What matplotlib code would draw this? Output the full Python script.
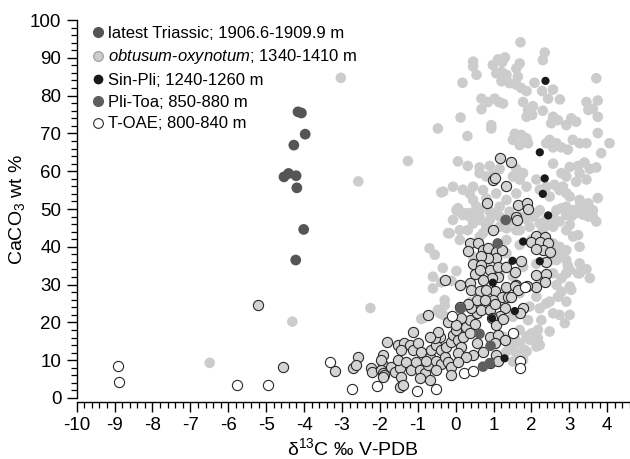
import matplotlib
matplotlib.use("Agg")
import matplotlib.pyplot as plt
from matplotlib.lines import Line2D
from matplotlib.ticker import MultipleLocator

plt.rcParams['font.family'] = ['Liberation Sans', 'DejaVu Sans']
plt.rcParams['mathtext.fontset'] = 'custom'
plt.rcParams['mathtext.rm'] = 'Liberation Sans'
plt.rcParams['mathtext.it'] = 'Liberation Sans:italic'
plt.rcParams['axes.unicode_minus'] = False

# latest Triassic; 1906.6-1909.9 m
tri_x = [-4.16, -4.07, -3.97, -4.27, -4.53, -4.41, -4.21, -4.19, -4.01, -4.22]
tri_y = [75.7, 75.4, 69.8, 66.9, 58.5, 59.4, 58.8, 55.6, 44.6, 36.5]

# obtusum-oxynotum; 1340-1410 m (plain light grey)
obt = [
    (1.71, 94.1), (2.35, 91.4), (2.30, 89.4), (0.46, 89.0), (1.12, 89.6), (1.30, 90.1), (1.23, 88.9),
    (0.98, 88.1), (0.46, 87.7), (1.69, 88.5), (1.60, 87.2), (1.21, 86.3), (1.07, 85.9), (1.34, 85.5),
    (0.55, 85.5), (1.64, 85.0), (0.18, 83.4), (1.21, 83.8), (1.42, 83.3), (1.60, 82.9), (1.73, 82.0),
    (1.87, 81.2), (2.08, 83.4), (2.28, 81.2), (2.57, 81.6), (2.44, 79.2), (2.75, 79.0), (3.71, 84.6),
    (0.68, 79.2), (0.85, 78.3), (1.03, 79.2), (1.14, 78.3), (1.25, 77.9), (0.68, 76.4), (0.13, 74.2),
    (1.78, 78.3), (1.91, 76.2), (2.04, 77.2), (1.87, 74.4), (2.02, 74.9), (2.30, 76.0), (0.94, 72.2),
    (0.94, 71.3), (2.57, 74.4), (2.70, 73.5), (2.52, 72.7), (3.05, 74.0), (3.18, 73.1), (2.92, 72.2),
    (3.45, 78.3), (3.62, 76.5), (3.75, 78.7), (3.75, 74.4), (3.50, 76.2), (-0.47, 71.3), (0.31, 69.3),
    (1.56, 69.9), (1.73, 69.6), (1.51, 68.3), (1.87, 68.7), (1.69, 66.9), (1.91, 67.4), (2.48, 68.3),
    (2.66, 67.4), (2.79, 66.3), (2.57, 66.3), (2.39, 67.4), (3.09, 68.3), (2.96, 65.7), (3.27, 67.4),
    (3.45, 67.4), (3.75, 70.1), (4.06, 67.4), (3.84, 64.8), (-1.26, 62.7), (0.06, 62.6), (0.32, 61.4),
    (0.63, 61.0), (0.90, 61.4), (1.16, 60.6), (1.60, 60.6), (1.51, 58.6), (1.78, 59.5), (1.69, 57.8),
    (2.57, 62.0), (2.79, 59.5), (3.01, 61.1), (2.92, 58.6), (3.23, 61.4), (3.40, 62.3), (3.27, 59.5),
    (3.54, 60.6), (3.71, 61.0), (-0.38, 54.4), (-0.07, 55.9), (0.19, 55.1), (0.46, 55.9), (0.63, 59.5),
    (0.81, 58.6), (0.98, 59.0), (2.13, 57.8), (2.22, 55.1), (2.39, 55.9), (2.61, 56.4), (2.83, 55.9),
    (3.18, 57.2), (3.45, 57.8), (2.92, 54.2), (3.27, 52.4), (3.50, 51.5), (3.75, 52.9), (0.02, 49.7),
    (0.19, 48.4), (0.37, 48.0), (0.63, 47.1), (0.81, 45.4), (1.16, 48.0), (1.42, 46.7), (2.04, 48.0),
    (2.22, 46.2), (2.57, 48.0), (2.92, 48.4), (3.18, 48.9), (3.36, 49.3), (3.50, 48.0),
    (0.06, 50.2), (0.24, 48.9), (0.55, 50.6), (0.63, 47.9), (0.98, 48.9), (0.90, 47.1), (-0.16, 43.6),
    (0.11, 41.8), (0.32, 44.4), (0.63, 42.6), (-0.69, 39.6), (-0.55, 37.9), (-0.34, 34.4), (-0.60, 32.1),
    (-0.60, 29.0), (-0.38, 30.6), (-0.11, 31.0), (0.02, 33.6), (-0.29, 25.9), (-0.86, 21.1), (-0.47, 23.3),
    (-0.20, 21.2), (0.19, 23.9), (0.37, 25.3), (1.34, 41.8), (1.34, 38.3), (1.69, 40.5), (2.00, 41.8),
    (2.57, 40.9), (2.74, 38.3), (2.92, 39.1), (3.27, 40.0), (3.27, 35.6), (3.45, 34.1), (2.96, 35.0),
    (3.54, 31.7), (3.23, 33.0), (3.01, 29.5), (2.79, 31.7), (2.57, 33.0), (2.70, 26.8), (3.05, 28.6),
    (2.92, 25.5), (2.13, 26.8), (2.39, 25.0), (2.57, 22.4), (2.26, 20.6), (2.48, 17.6), (2.17, 15.8),
    (2.00, 17.1), (2.13, 13.6), (1.87, 12.3), (1.69, 14.5), (2.74, 22.0), (3.01, 22.0), (2.88, 19.8),
    (1.87, 47.3), (2.13, 48.9), (2.39, 47.3), (2.79, 50.2), (3.10, 49.7), (3.27, 50.6), (3.62, 49.7),
    (3.36, 48.5), (3.05, 48.0), (3.62, 48.0), (3.71, 46.7), (1.16, 45.3), (1.60, 44.4), (1.95, 45.3),
    (2.30, 44.4), (2.57, 45.3), (2.92, 44.4), (3.23, 43.1), (0.46, 37.4), (0.90, 36.6), (1.16, 33.0),
    (1.51, 32.1), (1.78, 34.7), (2.13, 35.5), (2.48, 36.3), (1.69, 27.7), (1.95, 24.2), (1.51, 21.5),
    (1.69, 18.0), (1.87, 16.3), (1.42, 13.6), (1.60, 11.9),
    (2.92, 33.0), (3.27, 33.0), (2.66, 29.9), (2.79, 28.1), (2.48, 25.5), (2.22, 23.7), (2.17, 18.0),
    (1.95, 15.4), (2.22, 14.0), (1.82, 12.7), (1.78, 10.1), (1.51, 9.6), (1.47, 13.2), (1.91, 20.6),
    (1.56, 15.8), (1.25, 16.2), (1.34, 12.3),
    (0.37, 54.1), (0.46, 52.4), (0.72, 55.0), (0.81, 52.8), (1.07, 54.1), (1.34, 52.4), (1.60, 54.1),
    (1.87, 55.9), (2.48, 53.3), (2.74, 55.0), (3.01, 53.3), (2.92, 50.6), (2.66, 49.7), (2.22, 49.7),
    (1.95, 48.9), (1.69, 48.0), (1.42, 49.3), (1.16, 50.6), (0.90, 49.3), (0.63, 49.7), (0.37, 48.9),
    (0.11, 49.3), (-0.07, 47.1), (-0.20, 43.6), (0.11, 44.4), (0.46, 46.2), (0.72, 43.6), (1.34, 44.9),
    (1.69, 44.4), (2.48, 45.8), (2.74, 46.7), (3.01, 45.8), (3.10, 42.7), (2.74, 40.0), (2.66, 36.5),
    (2.92, 36.5), (3.01, 33.9), (2.22, 31.2), (1.34, 34.8), (-0.33, 54.6),
    (-3.03, 84.7), (-2.57, 57.3), (-2.25, 23.8), (-4.31, 20.2), (-6.49, 9.3), (-0.91, 20.9),
    (-0.29, 24.5), (-0.33, 22.0), (-0.42, 22.4),
]
obt_x = [p[0] for p in obt]
obt_y = [p[1] for p in obt]

# Sin-Pli; 1240-1260 m
sin_x = [2.37, 2.22, 2.35, 2.30, 2.44, 1.78, 1.50, 2.22, 0.98, 0.96, 1.56, 1.29]
sin_y = [83.9, 65.0, 58.1, 54.0, 48.3, 41.4, 36.3, 36.2, 30.5, 21.1, 23.0, 10.5]

# Pli-Toa; 850-880 m
pli_x = [1.32, 1.11, 0.13, 0.92, 0.72, 0.90, 0.63]
pli_y = [47.1, 40.9, 23.7, 13.8, 8.3, 9.2, 17.0]

# T-OAE; 800-840 m (open)
toae_x = [-8.92, -8.89, -5.77, -4.95, -3.32, -2.73, -2.08, -1.02, -0.53, -0.10, 0.21, 0.46,
          1.84, 1.51, 1.71, 1.71]
toae_y = [8.5, 4.3, 3.4, 3.4, 9.5, 2.5, 3.3, 1.9, 2.4, 21.8, 6.7, 7.1,
          29.3, 17.3, 9.9, 8.0]

# outlined grey points
grey = [
    (-5.22, 24.6), (-4.56, 8.1), (-3.18, 7.2), (-2.57, 10.8), (-2.72, 8.0), (-2.62, 8.7), (-2.24, 8.0),
    (-2.20, 6.8), (-1.92, 11.5), (-1.93, 8.7), (-1.97, 7.5), (-1.93, 6.7), (-1.88, 6.2), (-1.81, 14.8),
    (-1.96, 10.0), (-1.92, 5.6), (-1.70, 8.1), (-1.61, 7.0), (-1.48, 7.9), (-1.43, 5.6), (-1.48, 3.0),
    (-1.39, 3.4), (-1.52, 10.1), (-1.52, 14.0), (-1.35, 14.5), (-1.43, 12.7), (-1.21, 14.0), (-1.13, 12.7),
    (-0.99, 14.5), (-0.91, 12.3), (-1.13, 17.5), (-1.30, 9.6), (-1.17, 7.4), (-1.04, 9.6), (-0.95, 7.4),
    (-0.82, 6.5), (-0.73, 8.7), (-0.69, 10.9), (-0.64, 12.7), (-0.51, 14.0), (-0.38, 12.7), (-0.42, 16.2),
    (-0.55, 15.8), (-0.47, 17.5), (-0.69, 16.2), (-0.77, 9.9), (-0.51, 9.9), (-0.38, 9.0), (-0.51, 7.4),
    (-0.29, 10.9), (-0.20, 9.6), (-0.11, 8.2), (-0.25, 13.6), (-0.11, 14.9), (-0.07, 16.7), (0.06, 15.4),
    (0.15, 13.6), (0.06, 11.9), (0.02, 18.0), (0.19, 16.2), (0.28, 18.9), (0.37, 20.6), (0.50, 19.7),
    (0.55, 22.4), (0.41, 23.7), (0.68, 23.3), (0.15, 21.1), (-0.20, 20.2), (0.02, 19.3), (0.37, 17.1),
    (0.55, 14.5), (0.72, 12.3), (0.46, 11.4), (0.28, 10.9), (0.06, 9.6), (-0.11, 6.1), (-0.69, 4.8),
    (-0.95, 5.2), (-0.73, 22.0),
    (0.84, 51.7), (1.64, 51.0), (1.87, 51.6), (1.91, 49.9), (1.60, 47.9), (0.98, 44.4), (2.13, 42.9),
    (2.35, 42.5), (2.00, 41.4), (2.22, 41.4), (2.44, 40.9), (2.30, 39.2), (2.13, 39.3), (2.48, 38.7),
    (0.37, 40.9), (0.59, 40.9), (0.32, 39.0), (0.72, 39.2), (0.85, 39.6), (1.07, 38.7), (1.21, 39.1),
    (1.07, 37.1), (0.85, 37.1), (0.68, 37.6), (1.73, 36.3), (2.39, 36.1), (0.46, 35.5), (0.68, 35.1),
    (0.90, 33.9), (1.12, 34.7), (1.34, 34.7), (1.56, 33.4), (2.13, 32.5), (2.39, 32.8), (2.35, 30.8),
    (2.13, 29.3), (1.87, 29.5), (1.60, 29.9), (1.34, 29.3), (1.12, 32.1), (0.95, 31.7), (0.72, 31.2),
    (0.50, 32.9), (0.63, 33.9), (0.37, 30.3), (-0.29, 31.2), (0.11, 29.9),
    (1.03, 28.2), (1.21, 26.8), (1.39, 26.8), (1.56, 29.5), (1.64, 28.6), (0.98, 25.9), (0.90, 23.3),
    (1.03, 25.0), (1.29, 23.7), (1.16, 21.6), (0.95, 21.2), (1.07, 19.3), (1.25, 21.0), (1.78, 23.7),
    (1.69, 22.4), (1.47, 26.8), (0.90, 16.1), (1.12, 16.6), (1.29, 15.4), (1.03, 14.5), (1.07, 11.4),
    (0.90, 9.2), (1.12, 9.7), (0.41, 28.6), (0.63, 28.2), (0.81, 28.6), (0.55, 25.9), (0.77, 25.9),
    (0.32, 25.0), (0.11, 24.0),
    (1.16, 63.4), (1.45, 62.5), (0.98, 57.7), (1.03, 58.1), (1.34, 56.2), (1.62, 47.1),
]
grey_x = [p[0] for p in grey]
grey_y = [p[1] for p in grey]

fig = plt.figure(figsize=(6.3, 4.59), dpi=100)
ax = fig.add_axes([0.1217, 0.1329, 0.8783, 0.8235])

ax.scatter(obt_x, obt_y, s=58, color='#cccccc', edgecolors='none', zorder=2)
ax.scatter(grey_x, grey_y, s=54, color='#d3d3d3', edgecolors='#2a2a2a', linewidths=0.8, zorder=3)
ax.scatter(toae_x, toae_y, s=54, color='white', edgecolors='#2a2a2a', linewidths=0.8, zorder=3)
ax.scatter(pli_x, pli_y, s=58, color='#5e5e5e', edgecolors='none', zorder=4)
ax.scatter(tri_x, tri_y, s=60, color='#555555', edgecolors='none', zorder=4)
ax.scatter(sin_x, sin_y, s=35, color='#1a1a1a', edgecolors='none', zorder=5)

ax.set_xlim(-10, 4.6)
ax.set_ylim(0, 100)
ax.xaxis.set_minor_locator(MultipleLocator(0.2))
ax.yaxis.set_major_locator(MultipleLocator(10))
ax.yaxis.set_minor_locator(MultipleLocator(2))
ax.set_xticks(range(-10, 5))
ax.tick_params(which='major', length=7, width=1, labelsize=13.5, direction='out', pad=4)
ax.tick_params(which='minor', length=4.5, width=0.9, direction='out')
for side in ['top', 'right']:
    ax.spines[side].set_visible(False)
for side in ['left', 'bottom']:
    ax.spines[side].set_linewidth(1)
ax.spines['bottom'].set_position(('outward', 3))
ax.spines['left'].set_bounds(0, 100)

ax.set_xlabel(r'δ$^{13}$C ‰ V-PDB', fontsize=14, labelpad=2)
ax.set_ylabel(r'CaCO$_3$ wt %', fontsize=14, labelpad=2)

handles = [
    Line2D([], [], ls='none', marker='o', ms=7, mfc='#555555', mec='#555555'),
    Line2D([], [], ls='none', marker='o', ms=7, mfc='#cccccc', mec='#999999', mew=0.8),
    Line2D([], [], ls='none', marker='o', ms=6, mfc='#1a1a1a', mec='#1a1a1a'),
    Line2D([], [], ls='none', marker='o', ms=7, mfc='#5e5e5e', mec='#5e5e5e'),
    Line2D([], [], ls='none', marker='o', ms=7, mfc='white', mec='#2a2a2a', mew=0.8),
]
labels = [
    'latest Triassic; 1906.6-1909.9 m',
    r'$\mathit{obtusum}$-$\mathit{oxynotum}$; 1340-1410 m',
    'Sin-Pli; 1240-1260 m',
    'Pli-Toa; 850-880 m',
    'T-OAE; 800-840 m',
]
fig.legend(handles, labels, loc='upper left', bbox_to_anchor=(0.135, 0.962), frameon=False,
           fontsize=12, handlelength=0.6, handletextpad=0.3, labelspacing=0.4, borderpad=0)

fig.savefig('out.png', dpi=100)
